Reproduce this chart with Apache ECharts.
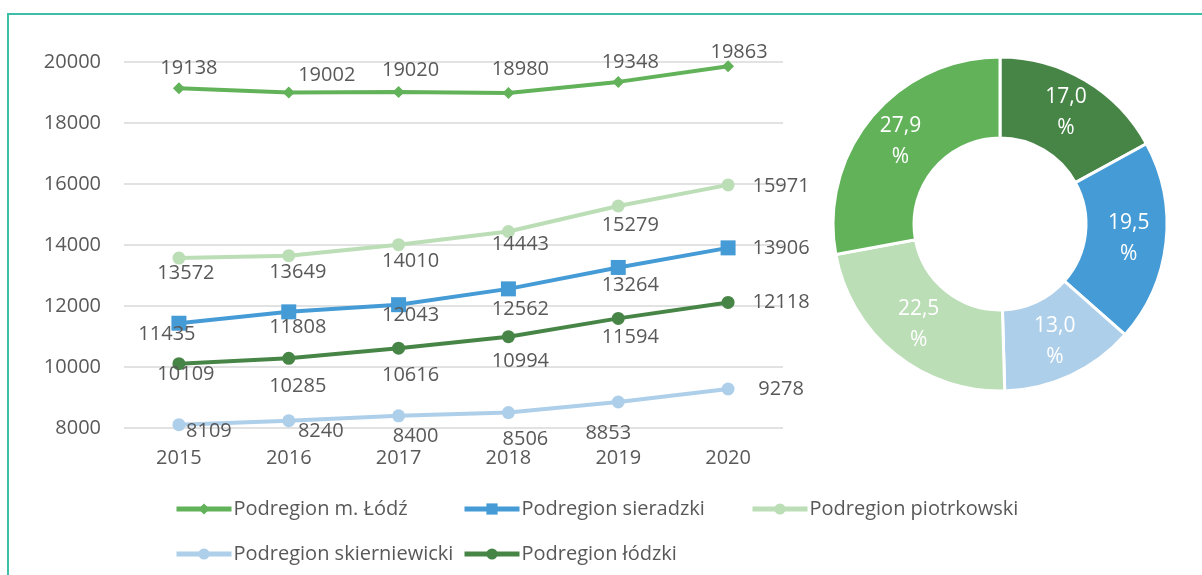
<!DOCTYPE html>
<html>
<head>
<meta charset="utf-8">
<script src="https://cdn.jsdelivr.net/npm/echarts@6/dist/echarts.min.js"></script>
<style>
	html, body { margin: 0; padding: 0; background: #fff; }
	#chart { width: 1202px; height: 575px; }
</style>
</head>
<body>
<div id="chart"></div>
<script>
var years = ['2015', '2016', '2017', '2018', '2019', '2020'];
var lodzCity = [19138, 19002, 19020, 18980, 19348, 19863];
var sieradzki = [11435, 11808, 12043, 12562, 13264, 13906];
var piotrkowski = [13572, 13649, 14010, 14443, 15279, 15971];
var skierniewicki = [8109, 8240, 8400, 8506, 8853, 9278];
var lodzki = [10109, 10285, 10616, 10994, 11594, 12118];
var yTicks = { min: 8000, max: 20000, interval: 2000 };

// share of 2020, clockwise from the top
var pieNames = ['Podregion łódzki', 'Podregion sieradzki', 'Podregion skierniewicki', 'Podregion piotrkowski', 'Podregion m. Łódź'];
var pieShares = [17.0, 19.5, 13.0, 22.5, 27.9];

var colors = {
	'Podregion m. Łódź': '#62b25a',
	'Podregion sieradzki': '#459bd5',
	'Podregion piotrkowski': '#bcdeb7',
	'Podregion skierniewicki': '#aecfea',
	'Podregion łódzki': '#478547'
};

// label placement (as moved by hand in the original)
var lodzCityOff = [[10,-20],[38,-17],[12,-22],[12,-24],[12,-20],[11,-14]];
var sieradzkiOff = [[-12,11],[9,15],[12,11],[12,20],[12,18],[53,0]];
var piotrkowskiOff = [[7,15],[9,17],[12,17],[12,13],[12,19],[53,1]];
var skierniewickiOff = [[30,7],[32,11],[17,20],[17,27],[-10,31],[53,0]];
var lodzkiOff = [[7,11],[9,28],[12,27],[12,25],[12,19],[53,0]];

var font = "'Open Sans', sans-serif";
var textColor = '#595959';

function lineSeries(name, values, offs, symbol, size){
	var d = [];
	for(var i=0; i<values.length; i++){
		d.push({ value: values[i], label: { offset: offs[i] } });
	}
	return {
		name: name,
		type: 'line',
		data: d,
		symbol: symbol,
		symbolSize: size,
		lineStyle: { width: 4, color: colors[name] },
		itemStyle: { color: colors[name] },
		label: {
			show: true,
			position: 'inside',
			color: textColor,
			fontFamily: font,
			fontSize: 20
		},
		emphasis: { disabled: true },
		z: 3
	};
}

// one legend per entry so the columns sit where the original has them
function legendItem(name, left, top){
	return {
		data: [name],
		left: left,
		top: top,
		itemWidth: 55,
		itemHeight: 14,
		itemGap: 0,
		lineStyle: { width: 5 },
		textStyle: { color: textColor, fontFamily: font, fontSize: 20, padding: [0, 0, 0, -3] },
		selectedMode: false
	};
}

var chart = echarts.init(document.getElementById('chart'));

var options = {
	animation: false,
	graphic: [{
		type: 'rect',
		shape: { x: 8, y: 14, width: 1300, height: 700 },
		style: { fill: 'none', stroke: '#3cbfa6', lineWidth: 2 },
		silent: true
	}],
	legend: [
		legendItem('Podregion m. Łódź', 169, 494),
		legendItem('Podregion sieradzki', 457, 494),
		legendItem('Podregion piotrkowski', 745, 494),
		legendItem('Podregion skierniewicki', 169, 539),
		legendItem('Podregion łódzki', 457, 539)
	],
	grid: {
		left: 124,
		right: 419,
		top: 62,
		bottom: 147,
		containLabel: false
	},
	xAxis: {
		type: 'category',
		data: years,
		boundaryGap: true,
		axisLine: { show: false },
		axisTick: { show: false },
		axisLabel: { color: textColor, fontFamily: font, fontSize: 20, margin: 20 }
	},
	yAxis: {
		type: 'value',
		min: yTicks.min,
		max: yTicks.max,
		interval: yTicks.interval,
		axisLine: { show: false },
		axisTick: { show: false },
		axisLabel: {
			color: textColor, fontFamily: font, fontSize: 20, margin: 23,
			formatter: function(v){ return String(v); }
		},
		splitLine: { lineStyle: { color: '#d9d9d9', width: 1.5 } }
	},
	series: [
		lineSeries('Podregion m. Łódź', lodzCity, lodzCityOff, 'diamond', 12),
		lineSeries('Podregion sieradzki', sieradzki, sieradzkiOff, 'rect', 15),
		lineSeries('Podregion piotrkowski', piotrkowski, piotrkowskiOff, 'circle', 13),
		lineSeries('Podregion skierniewicki', skierniewicki, skierniewickiOff, 'circle', 13),
		lineSeries('Podregion łódzki', lodzki, lodzkiOff, 'circle', 13),
		{
			type: 'pie',
			center: [1000, 224],
			radius: [86, 167],
			startAngle: 90,
			clockwise: true,
			silent: true,
			itemStyle: { borderColor: '#fff', borderWidth: 3 },
			label: {
				show: true,
				position: 'inside',
				color: '#fff',
				fontFamily: font,
				fontSize: 21,
				lineHeight: 31,
				formatter: function(p){
					return p.value.toFixed(1).replace('.', ',') + '\n%';
				}
			},
			labelLine: { show: false },
			data: pieNames.map(function(n, i){
				return { name: n, value: pieShares[i], itemStyle: { color: colors[n] } };
			})
		}
	]
};

chart.setOption(options);
</script>
</body>
</html>
